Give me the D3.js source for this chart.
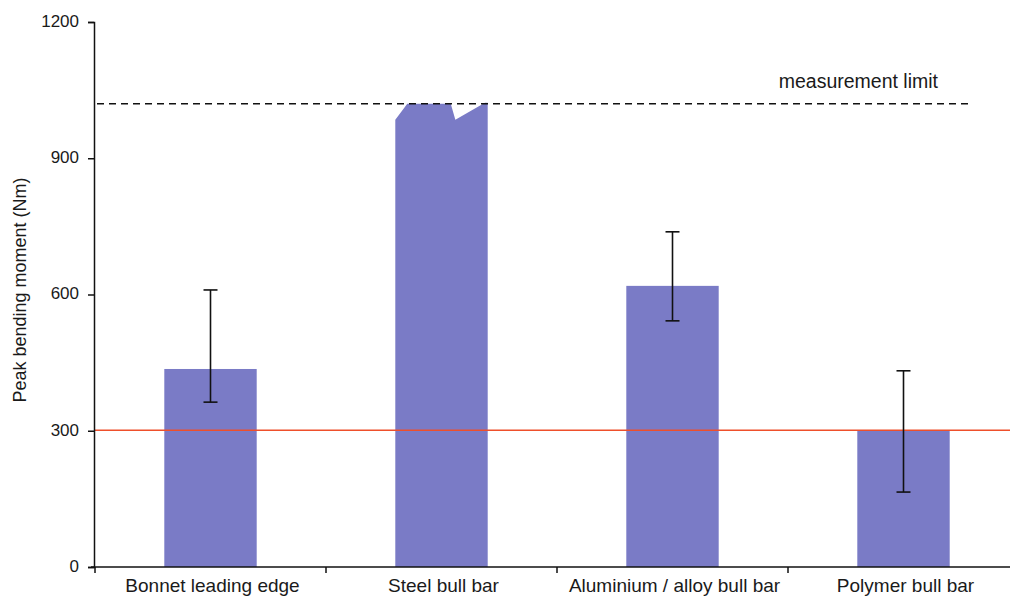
<!DOCTYPE html>
<html>
<head>
<meta charset="utf-8">
<script src="https://cdn.jsdelivr.net/npm/d3@7"></script>
<style>
  body { margin: 0; background: #fff; }
  text { font-family: "Liberation Sans", Arial, sans-serif; fill: #1a1a1a; }
</style>
</head>
<body>
<div id="chart"></div>
<script>
//chart data
const categories = ["Bonnet leading edge", "Steel bull bar", "Aluminium / alloy bull bar", "Polymer bull bar"];
const peakMoment = [436, 1020, 619, 300];
const errLow = [363, null, 542, 165];
const errHigh = [610, null, 738, 432];
const yTicks = [0, 300, 600, 900, 1200];
const limitValue = 1020;
const thresholdValue = 301;
//broken top of the steel bar (fraction across bar, value)
const steelTop = [[0, 985], [0.13, 1020], [0.6, 1020], [0.65, 985], [0.97, 1022], [1, 1022]];

const width = 1010, height = 598;
const margin = { top: 22, bottom: 31, left: 94 };

const svg = d3.select("#chart").append("svg")
  .attr("width", width)
  .attr("height", height);

//scales
const x = d3.scaleBand()
  .domain(categories)
  .range([margin.left + 1, margin.left + 1 + 231 * 4])
  .paddingInner(0.6)
  .paddingOuter(0.3);

const y = d3.scaleLinear()
  .domain([0, 1200])
  .range([height - margin.bottom, margin.top]);

//bars
const data = categories.map((c, i) => ({ cat: c, v: peakMoment[i], lo: errLow[i], hi: errHigh[i] }));

svg.selectAll(".bar")
  .data(data.filter(d => d.cat !== "Steel bull bar"))
  .enter()
  .append("rect")
  .attr("class", "bar")
  .attr("x", d => x(d.cat))
  .attr("width", x.bandwidth())
  .attr("y", d => y(d.v))
  .attr("height", d => y(0) - y(d.v))
  .attr("fill", "#7a7bc6");

//steel bar with its clipped top
const sx = x("Steel bull bar"), bw = x.bandwidth();
const steelPts = [[sx, y(0)]]
  .concat(steelTop.map(p => [sx + p[0] * bw, y(p[1])]))
  .concat([[sx + bw, y(0)]]);
svg.append("path")
  .attr("d", d3.line()(steelPts) + "Z")
  .attr("fill", "#7a7bc6");

//threshold line (red)
svg.append("line")
  .attr("x1", margin.left)
  .attr("x2", width)
  .attr("y1", y(thresholdValue))
  .attr("y2", y(thresholdValue))
  .attr("stroke", "#ee4f2b")
  .attr("stroke-width", 1.6);

//measurement limit line
svg.append("line")
  .attr("x1", margin.left + 3)
  .attr("x2", 970)
  .attr("y1", y(limitValue))
  .attr("y2", y(limitValue))
  .attr("stroke", "#111")
  .attr("stroke-width", 1.6)
  .style("stroke-dasharray", "7,5");

svg.append("text")
  .attr("x", 938)
  .attr("y", y(limitValue) - 16)
  .attr("text-anchor", "end")
  .style("font-size", "19.5px")
  .text("measurement limit");

//error bars
const eb = svg.selectAll(".err")
  .data(data.filter(d => d.lo !== null))
  .enter()
  .append("g")
  .attr("class", "err")
  .attr("stroke", "#111")
  .attr("stroke-width", 1.6);

eb.append("line")
  .attr("x1", d => x(d.cat) + bw / 2)
  .attr("x2", d => x(d.cat) + bw / 2)
  .attr("y1", d => y(d.lo))
  .attr("y2", d => y(d.hi));
eb.append("line")
  .attr("x1", d => x(d.cat) + bw / 2 - 7)
  .attr("x2", d => x(d.cat) + bw / 2 + 7)
  .attr("y1", d => y(d.lo))
  .attr("y2", d => y(d.lo));
eb.append("line")
  .attr("x1", d => x(d.cat) + bw / 2 - 7)
  .attr("x2", d => x(d.cat) + bw / 2 + 7)
  .attr("y1", d => y(d.hi))
  .attr("y2", d => y(d.hi));

//y axis
const yAxis = svg.append("g")
  .attr("transform", "translate(" + margin.left + ",0)")
  .call(d3.axisLeft(y).tickValues(yTicks).tickFormat(d3.format("d")).tickSize(6).tickPadding(9));
yAxis.select(".domain").attr("stroke", "#111").attr("stroke-width", 1.5);
yAxis.selectAll(".tick line").attr("stroke", "#111").attr("stroke-width", 1.5);
yAxis.selectAll("text")
  .style("font-size", "17px")
  .attr("fill", "#1a1a1a")
  .attr("font-family", null)
  .attr("dy", "0.25em");

//x axis (line, ticks on band edges, labels)
svg.append("line")
  .attr("x1", margin.left - 3)
  .attr("x2", width)
  .attr("y1", y(0))
  .attr("y2", y(0))
  .attr("stroke", "#111")
  .attr("stroke-width", 1.5);

const step = x.step();
const edges = d3.range(categories.length + 1).map(i => margin.left + 1 + i * step);
svg.selectAll(".xtick")
  .data(edges)
  .enter()
  .append("line")
  .attr("x1", d => d)
  .attr("x2", d => d)
  .attr("y1", y(0))
  .attr("y2", y(0) + 6)
  .attr("stroke", "#111")
  .attr("stroke-width", 1.5);

svg.selectAll(".xlabel")
  .data(categories)
  .enter()
  .append("text")
  .attr("x", d => x(d) + bw / 2 + 2)
  .attr("y", y(0) + 25)
  .attr("text-anchor", "middle")
  .style("font-size", "19px")
  .text(d => d);

//y axis title
svg.append("text")
  .attr("transform", "translate(26,290) rotate(-90)")
  .attr("text-anchor", "middle")
  .style("font-size", "18px")
  .text("Peak bending moment (Nm)");
</script>
</body>
</html>
